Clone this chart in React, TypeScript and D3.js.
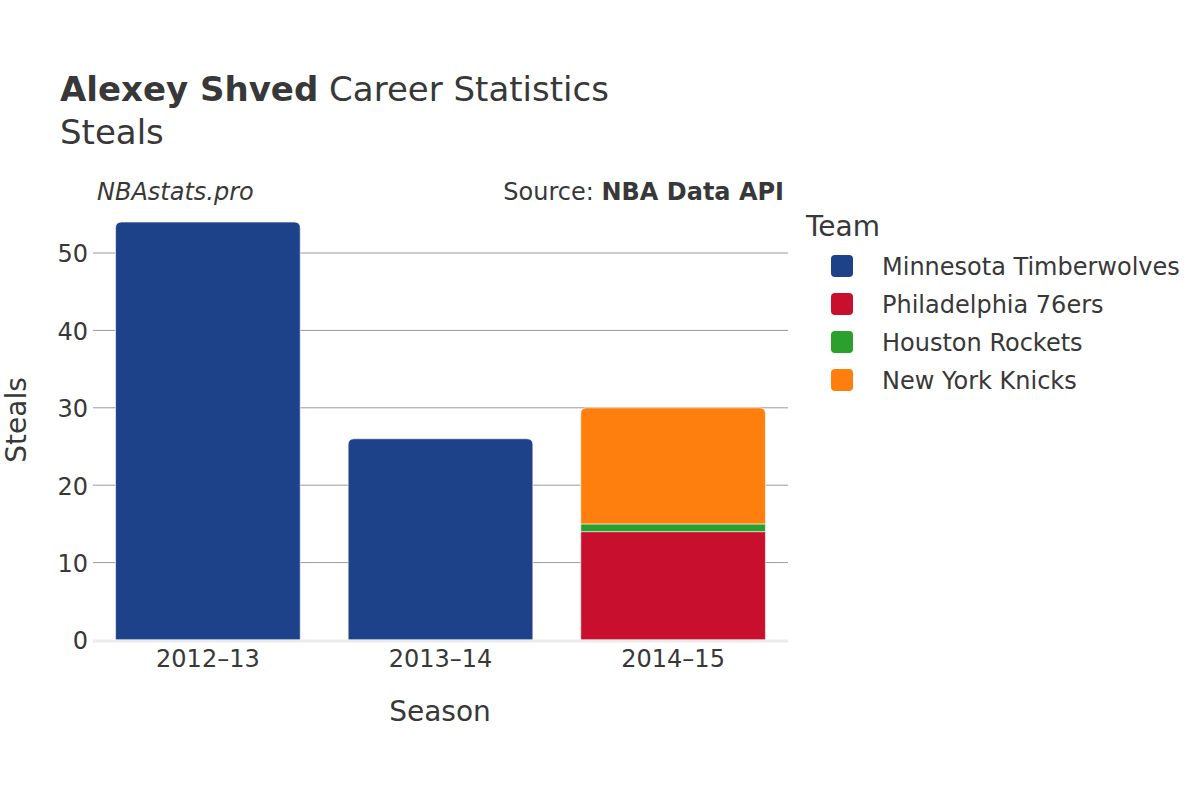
import React from "react";
import * as d3 from "d3";

const seasons = ["2012–13", "2013–14", "2014–15"];
const teams = ["Minnesota Timberwolves", "Philadelphia 76ers", "Houston Rockets", "New York Knicks"];
const teamColors = ["#1d4289", "#c8102e", "#2ca02c", "#ff7f0e"];
// steals per season per team (order of teams above)
const minnesotaValues = [54, 26, 0];
const philadelphiaValues = [0, 0, 14];
const houstonValues = [0, 0, 1];
const knicksValues = [0, 0, 15];
const yTicks = [0, 10, 20, 30, 40, 50];

const W = 1200;
const H = 800;
const margin = { left: 93, right: 788, top: 215, bottom: 640 };
const FONT = "'DejaVu Sans', sans-serif";
const TEXT = "#383838";

export default function App() {
  const series = [minnesotaValues, philadelphiaValues, houstonValues, knicksValues];
  const x = d3.scaleBand<string>().domain(seasons).range([margin.left, margin.right]).paddingInner(0.206).paddingOuter(0.097);
  const y = d3.scaleLinear().domain([0, 55]).range([margin.bottom, margin.bottom - 55 * 7.74]);

  const rows = seasons.map((s, i) => {
    const o: any = { season: s };
    teams.forEach((t, j) => (o[t] = series[j][i]));
    return o;
  });
  const stack = d3.stack<any>().keys(teams)(rows);

  const r = 6;
  const segPath = (x0: number, x1: number, yTop: number, yBot: number, round: boolean) => {
    if (!round) return `M${x0},${yBot}V${yTop}H${x1}V${yBot}Z`;
    const rr = Math.min(r, (yBot - yTop) / 2);
    return `M${x0},${yBot}V${yTop + rr}Q${x0},${yTop} ${x0 + rr},${yTop}H${x1 - rr}Q${x1},${yTop} ${x1},${yTop + rr}V${yBot}Z`;
  };

  const topLayer = seasons.map((_, i) => {
    let top = -1;
    stack.forEach((layer, j) => {
      if (layer[i][1] - layer[i][0] > 0) top = j;
    });
    return top;
  });

  return (
    <svg width={W} height={H} style={{ display: "block", position: "absolute", left: 0, top: 0 }} fontFamily={FONT}>
      <rect width={W} height={H} fill="#fff" />
      {/* title */}
      <text x={60} y={101} fontSize={34} fill={TEXT}>
        <tspan fontWeight="bold">Alexey Shved</tspan>
        <tspan> Career Statistics</tspan>
      </text>
      <text x={60} y={144} fontSize={34} fill={TEXT}>Steals</text>
      <text x={97} y={200} fontSize={24} fontStyle="italic" fill={TEXT}>NBAstats.pro</text>
      <text x={784} y={200} fontSize={24} textAnchor="end" fill={TEXT}>
        <tspan>Source: </tspan>
        <tspan fontWeight="bold">NBA Data API</tspan>
      </text>

      {/* gridlines */}
      {yTicks.filter((t) => t > 0).map((t) => (
        <line key={t} x1={margin.left} x2={margin.right} y1={y(t)} y2={y(t)} stroke="#9a9a9a" strokeWidth={1} />
      ))}
      {yTicks.map((t) => (
        <text key={"l" + t} x={88} y={y(t) + 1} dy="0.35em" textAnchor="end" fontSize={24} fill={TEXT}>
          {t}
        </text>
      ))}

      {/* bars */}
      {stack.map((layer, j) =>
        layer.map((d, i) => {
          if (d[1] - d[0] <= 0) return null;
          const x0 = x(seasons[i])!;
          const x1 = x0 + x.bandwidth();
          return (
            <path
              key={j + "-" + i}
              d={segPath(x0, x1, y(d[1]), y(d[0]), topLayer[i] === j)}
              fill={teamColors[j]}
              stroke="#fff"
              strokeWidth={0.6}
            />
          );
        })
      )}

      {/* zero line */}
      <line x1={margin.left} x2={margin.right} y1={y(0) + 1} y2={y(0) + 1} stroke="#ebebeb" strokeWidth={3} />

      {/* x tick labels */}
      {seasons.map((s) => (
        <text key={s} x={x(s)! + x.bandwidth() / 2} y={667} textAnchor="middle" fontSize={24} fill={TEXT}>
          {s}
        </text>
      ))}
      <text x={440} y={721} textAnchor="middle" fontSize={28} fill={TEXT}>Season</text>
      <text transform={`translate(26,420) rotate(-90)`} textAnchor="middle" fontSize={28} fill={TEXT}>Steals</text>

      {/* legend */}
      <text x={806} y={236} fontSize={28} fill={TEXT}>Team</text>
      {teams.map((t, j) => (
        <g key={t} transform={`translate(0,${266 + j * 38})`}>
          <rect x={831} y={-11} width={22} height={22} rx={4} fill={teamColors[j]} />
          <text x={882} y={1} dy="0.35em" fontSize={24} fill={TEXT}>{t}</text>
        </g>
      ))}
    </svg>
  );
}
